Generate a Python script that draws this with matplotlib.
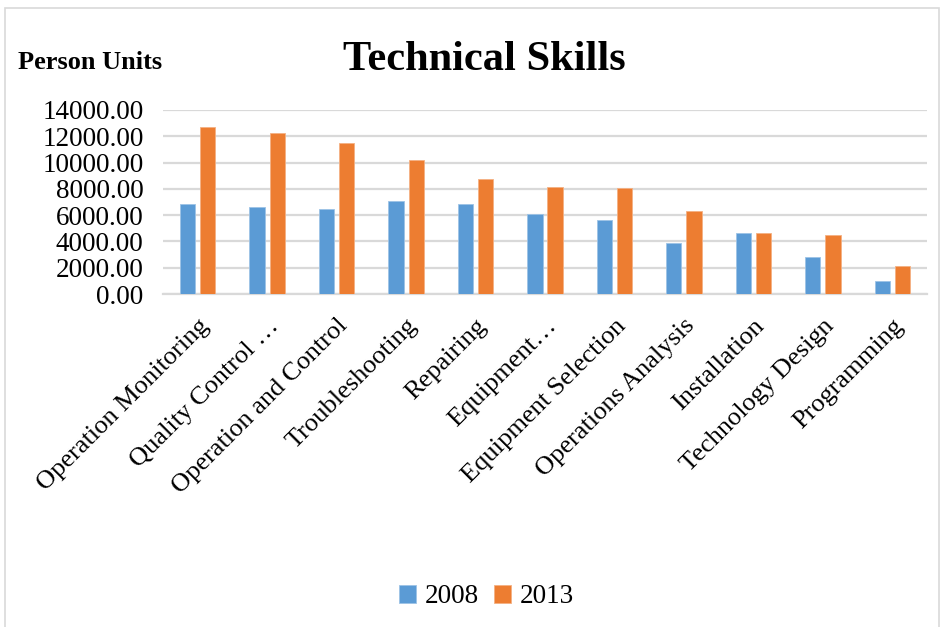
import numpy as np
import matplotlib.pyplot as plt
from matplotlib.patches import Rectangle

plt.rcParams['font.family'] = ['Liberation Serif', 'DejaVu Serif']

skills = ['Operation Monitoring', 'Quality Control …', 'Operation and Control',
          'Troubleshooting', 'Repairing', 'Equipment…', 'Equipment Selection',
          'Operations Analysis', 'Installation', 'Technology Design', 'Programming']
y2008 = [6850, 6600, 6490, 7100, 6820, 6060, 5660, 3860, 4640, 2790, 990]
y2013 = [12700, 12250, 11460, 10190, 8720, 8120, 8060, 6340, 4660, 4510, 2150]
yticks = np.arange(0, 14001, 2000)

blue = '#5B9BD5'
orange = '#ED7D31'

fig = plt.figure(figsize=(9.44, 6.27), dpi=100)
ax = fig.add_axes([0.1727, 0.5311, 0.8093, 0.2935])

x = np.arange(len(skills))
w = 0.22
ax.bar(x - 0.145, y2008, w, color=blue, edgecolor='#9DC3E6', linewidth=0.6, label='2008', zorder=3)
ax.bar(x + 0.145, y2013, w, color=orange, edgecolor='#F4B183', linewidth=0.6, label='2013', zorder=3)

ax.set_xlim(-0.5, len(skills) - 0.5)
ax.set_ylim(0, 14000)
ax.set_yticks(yticks)
ax.set_yticklabels([f'{v:.2f}' for v in yticks], fontsize=19.5)
ax.grid(axis='y', color='#D9D9D9', linewidth=1.6, zorder=0)
for s in ['top', 'right', 'left']:
    ax.spines[s].set_visible(False)
ax.spines['bottom'].set_color('#D9D9D9')
ax.spines['bottom'].set_linewidth(1.6)
ax.tick_params(axis='y', length=0, pad=14)
ax.tick_params(axis='x', length=0, pad=15)
ax.set_xticks(x)
ax.set_xticklabels(skills, rotation=45, ha='right', rotation_mode='anchor', fontsize=19)

fig.text(0.513, 0.905, 'Technical Skills', ha='center', va='center',
         fontsize=30.5, fontweight='bold')
fig.text(0.019, 0.900, 'Person Units', ha='left', va='center',
         fontsize=19, fontweight='bold')

fig.legend(loc='center', bbox_to_anchor=(0.515, 0.048), ncol=2, frameon=False,
           fontsize=19.5, handlelength=0.65, handleheight=0.65, handletextpad=0.3,
           columnspacing=0.55)

fig.patches.append(Rectangle((0.005, -0.05), 0.99, 1.037, transform=fig.transFigure,
                             fill=False, edgecolor='#D9D9D9', linewidth=1.2))

fig.savefig('out.png', dpi=100)
